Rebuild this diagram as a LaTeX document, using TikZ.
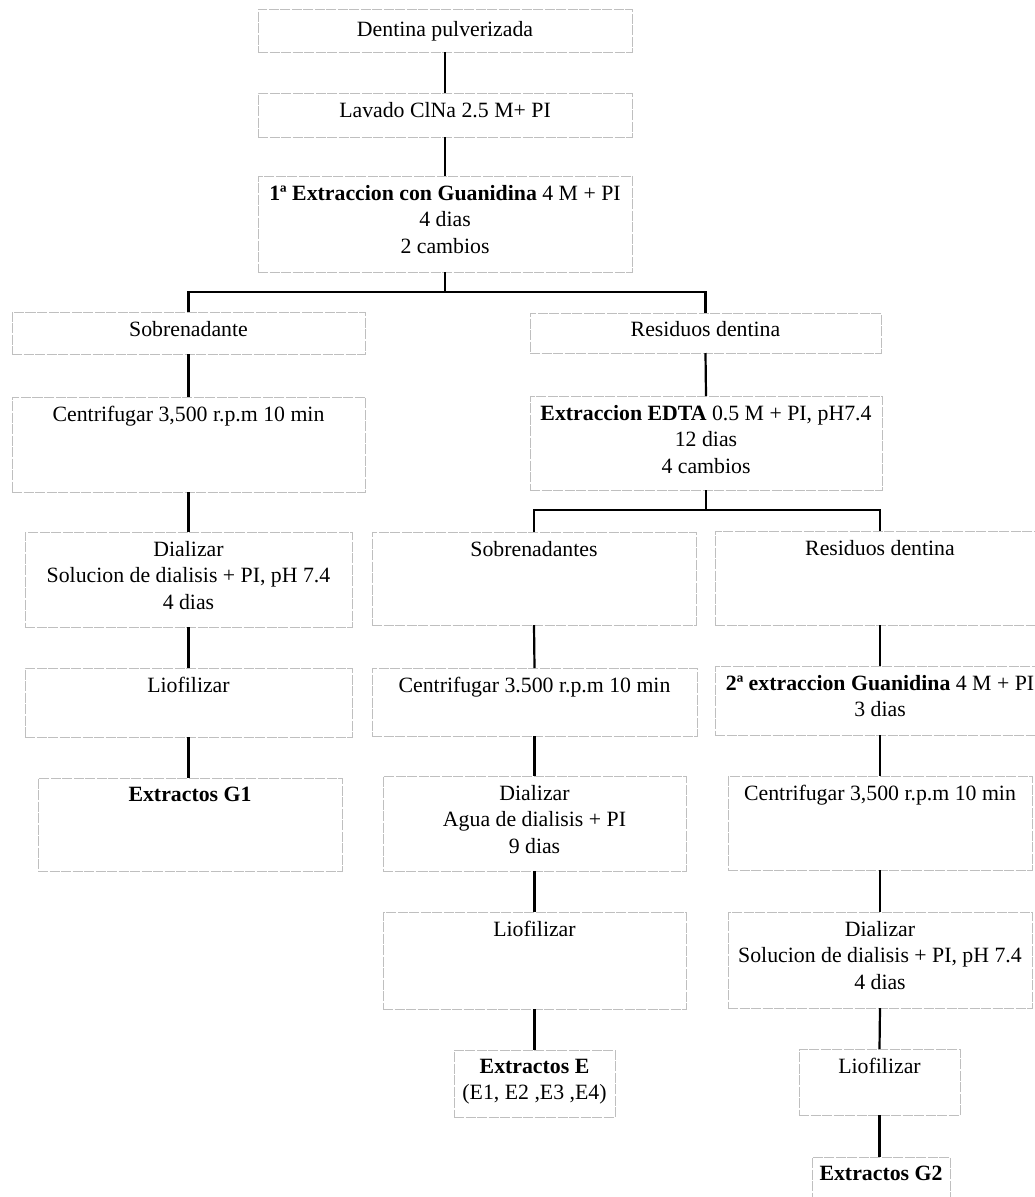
\documentclass[tikz,border=0pt]{standalone}
\usepackage{fontspec}
\setmainfont{Liberation Serif}
\begin{document}
\begin{tikzpicture}[x=1pt,y=-1pt,
  box/.style={draw=gray!50, line width=0.7pt, dash pattern=on 10pt off 1.5pt, anchor=north west, inner sep=0pt, outer sep=0pt},
  txt/.style={anchor=north, align=center, inner sep=0pt, font=\fontsize{21.8}{26.5}\selectfont},
  link/.style={line width=2.2pt, black}]
\useasboundingbox (0,0) rectangle (1035,1197);
% boxes
\node[box, minimum width=374pt, minimum height=43pt] (b1) at (258,9) {};
\node[box, minimum width=374pt, minimum height=44pt] (b2) at (258,93) {};
\node[box, minimum width=374pt, minimum height=96pt] (b3) at (258,176) {};
\node[box, minimum width=353pt, minimum height=42pt] (sob) at (12,312) {};
\node[box, minimum width=351pt, minimum height=40pt] (res) at (530,313) {};
\node[box, minimum width=353pt, minimum height=95pt] (cen1) at (12,397) {};
\node[box, minimum width=327pt, minimum height=95pt] (dia1) at (25,532) {};
\node[box, minimum width=327pt, minimum height=69pt] (lio1) at (25,668) {};
\node[box, minimum width=304pt, minimum height=93pt] (g1) at (38,778) {};
\node[box, minimum width=352pt, minimum height=94pt] (edta) at (530,396) {};
\node[box, minimum width=324pt, minimum height=93pt] (sobs) at (372,532) {};
\node[box, minimum width=330pt, minimum height=94pt] (res2) at (715,531) {};
\node[box, minimum width=325pt, minimum height=68pt] (cen2) at (372,668) {};
\node[box, minimum width=330pt, minimum height=69pt] (g2x) at (715,666) {};
\node[box, minimum width=303pt, minimum height=95pt] (dia2) at (383,776) {};
\node[box, minimum width=304pt, minimum height=94pt] (cen3) at (728,776) {};
\node[box, minimum width=303pt, minimum height=97pt] (lio2) at (383,912) {};
\node[box, minimum width=304pt, minimum height=96pt] (dia3) at (728,912) {};
\node[box, minimum width=161pt, minimum height=67pt] (exE) at (454,1050) {};
\node[box, minimum width=161pt, minimum height=66pt] (lio3) at (799,1049) {};
\node[box, minimum width=138pt, minimum height=45pt] (exG2) at (812,1157) {};
% texts
\node[txt] (t-b1) at ([yshift=-12pt]b1.north) {Dentina pulverizada};
\node[txt] (t-b2) at ([yshift=-9pt]b2.north) {Lavado ClNa 2.5 M+ PI};
\node[txt] (t-b3) at ([yshift=-9pt]b3.north) {\textbf{1ª Extraccion con Guanidina} 4 M + PI\\4 dias\\2 cambios};
\node[txt] (t-sob) at ([yshift=-9pt]sob.north) {Sobrenadante};
\node[txt] (t-res) at ([yshift=-8pt]res.north) {Residuos dentina};
\node[txt] (t-cen1) at ([yshift=-9pt]cen1.north) {Centrifugar 3,500 r.p.m 10 min};
\node[txt] (t-dia1) at ([yshift=-9pt]dia1.north) {Dializar\\Solucion de dialisis + PI, pH 7.4\\4 dias};
\node[txt] (t-lio1) at ([yshift=-9pt]lio1.north) {Liofilizar};
\node[txt] (t-g1) at ([yshift=-9pt]g1.north) {\textbf{Extractos G1}};
\node[txt] (t-edta) at ([yshift=-9pt]edta.north) {\textbf{Extraccion EDTA} 0.5 M + PI, pH7.4\\12 dias\\4 cambios};
\node[txt] (t-sobs) at ([yshift=-9pt]sobs.north) {Sobrenadantes};
\node[txt] (t-res2) at ([yshift=-9pt]res2.north) {Residuos dentina};
\node[txt] (t-cen2) at ([yshift=-9pt]cen2.north) {Centrifugar 3.500 r.p.m 10 min};
\node[txt] (t-g2x) at ([yshift=-9pt]g2x.north) {\textbf{2ª extraccion Guanidina} 4 M + PI\\3 dias};
\node[txt] (t-dia2) at ([yshift=-9pt]dia2.north) {Dializar\\Agua de dialisis + PI\\9 dias};
\node[txt] (t-cen3) at ([yshift=-9pt]cen3.north) {Centrifugar 3,500 r.p.m 10 min};
\node[txt] (t-lio2) at ([yshift=-9pt]lio2.north) {Liofilizar};
\node[txt] (t-dia3) at ([yshift=-9pt]dia3.north) {Dializar\\Solucion de dialisis + PI, pH 7.4\\4 dias};
\node[txt] (t-exE) at ([yshift=-9pt]exE.north) {\textbf{Extractos E}\\(E1, E2 ,E3 ,E4)};
\node[txt] (t-lio3) at ([yshift=-9pt]lio3.north) {Liofilizar};
\node[txt] (t-exG2) at ([yshift=-9pt]exG2.north) {\textbf{Extractos G2}};
% connectors
\coordinate (j1) at (445,292);
\coordinate (j2) at (706,510);
\draw[link] (b1.south) -- (b2.north);
\draw[link] (b2.south) -- (b3.north);
\draw[link] (b3.south) -- (j1);
\draw[link] (sob.north) |- (j1) -| (res.north);
\draw[link] (sob.south) -- (cen1.north);
\draw[link] (cen1.south) -- (dia1.north);
\draw[link] (dia1.south) -- (lio1.north);
\draw[link] (lio1.south) -- (lio1.south |- g1.north);
\draw[link] (res.south) -- (edta.north);
\draw[link] (edta.south) -- (j2);
\draw[link] (sobs.north) |- (j2) -| (res2.north);
\draw[link] (sobs.south) -- (cen2.north);
\draw[link] (cen2.south) -- (dia2.north);
\draw[link] (dia2.south) -- (lio2.north);
\draw[link] (lio2.south) -- (exE.north);
\draw[link] (res2.south) -- (g2x.north);
\draw[link] (g2x.south) -- (cen3.north);
\draw[link] (cen3.south) -- (dia3.north);
\draw[link] (dia3.south) -- (lio3.north);
\draw[link] (lio3.south) -- (lio3.south |- exG2.north);
\end{tikzpicture}
\end{document}
